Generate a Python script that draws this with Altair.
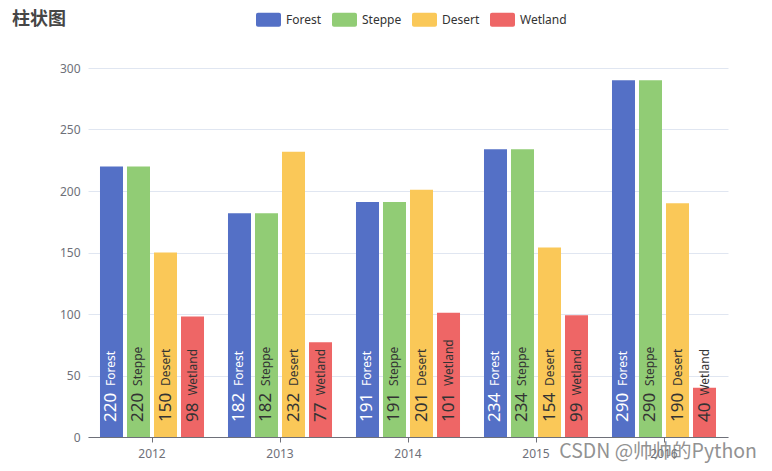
import altair as alt
import pandas as pd

years = ["2012", "2013", "2014", "2015", "2016"]
series = ["Forest", "Steppe", "Desert", "Wetland"]
forest = [220, 182, 191, 234, 290]
steppe = [220, 182, 191, 234, 290]
desert = [150, 232, 201, 154, 190]
wetland = [98, 77, 101, 99, 40]
colors = ["#5470c6", "#91cc75", "#fac858", "#ee6666"]
label_colors = ["#ffffff", "#333333", "#333333", "#333333"]

rows = []
for s, vals, lc in zip(series, [forest, steppe, desert, wetland], label_colors):
    for yr, v in zip(years, vals):
        rows.append({"year": yr, "series": s, "value": v, "lc": lc})
df = pd.DataFrame(rows)

PX_PER_UNIT = 369 / 300.0

yaxis = alt.Axis(title=None, values=[0, 50, 100, 150, 200, 250, 300], domain=False, ticks=False,
                 labelPadding=8, labelColor="#6e7079", labelFontSize=12, gridColor="#e0e6f1",
                 labelFont="Noto Sans")
yscale = alt.Scale(domain=[0, 300], nice=False)

x = alt.X("year:N", sort=years, scale=alt.Scale(paddingInner=0, paddingOuter=0),
          axis=alt.Axis(title=None, labelAngle=0, domainColor="#6e7079", tickColor="#6e7079",
                        tickSize=5, labelColor="#6e7079", labelFontSize=12, labelPadding=6,
                        grid=False, labelFont="Noto Sans"))
xoff = alt.XOffset("series:N", sort=series, scale=alt.Scale(paddingInner=0.148, paddingOuter=0.444))

rounded = ("M-0.84,-0.56 L0.84,-0.56 A0.16,0.16 0 0 1 1,-0.4 L1,0.4 A0.16,0.16 0 0 1 0.84,0.56 "
           "L-0.84,0.56 A0.16,0.16 0 0 1 -1,0.4 L-1,-0.4 A0.16,0.16 0 0 1 -0.84,-0.56 Z")

base = alt.Chart(df)

bars = base.mark_bar().encode(
    x=x,
    xOffset=xoff,
    y=alt.Y("value:Q", scale=yscale, axis=yaxis),
    color=alt.Color("series:N", sort=series, scale=alt.Scale(domain=series, range=colors),
                    legend=alt.Legend(orient="none", legendX=168, legendY=-61, direction="horizontal",
                                      title=None, symbolType=rounded, symbolSize=625,
                                      symbolStrokeWidth=0, symbolOpacity=1, labelFontSize=12,
                                      labelColor="#333333", labelFont="Noto Sans",
                                      columnPadding=10, labelOffset=5)),
)

val_text = base.transform_calculate(
    vy=f"15/{PX_PER_UNIT}"
).mark_text(angle=270, align="left", baseline="middle", fontSize=17, font="Noto Sans").encode(
    x=x,
    xOffset=xoff,
    y=alt.Y("vy:Q", scale=yscale, axis=yaxis),
    text="value:Q",
    color=alt.Color("lc:N", scale=None),
)

name_text = base.transform_calculate(
    ny=f"(15 + length(toString(datum.value))*9.7 + 7)/{PX_PER_UNIT}"
).mark_text(angle=270, align="left", baseline="middle", fontSize=12, font="Noto Sans").encode(
    x=x,
    xOffset=xoff,
    y=alt.Y("ny:Q", scale=yscale, axis=yaxis),
    text="series:N",
    color=alt.Color("lc:N", scale=None),
)

title_text = alt.Chart(pd.DataFrame({"t": ["柱状图"]})).mark_text(
    align="left", baseline="middle", fontSize=18, font="Noto Sans CJK SC", fontWeight="bold",
    color="#464646"
).encode(
    text="t:N",
    x=alt.value(-76),
    y=alt.value(-48),
)

watermark = alt.Chart(pd.DataFrame({"t": ["CSDN @帅帅的Python"]})).mark_text(
    align="right", baseline="middle", fontSize=19.5, font="Noto Sans CJK SC", color="#7f7f7f", opacity=0.85
).encode(
    text="t:N",
    x=alt.value(669),
    y=alt.value(384),
)

chart = alt.layer(bars, val_text, name_text, title_text, watermark).properties(
    width=640,
    height=369,
    autosize=alt.AutoSizeParams(type="none"),
    padding={"left": 80, "top": 60, "right": 36, "bottom": 26},
).configure_view(stroke=None)

chart.save("out.html", embed_options={"renderer": "svg", "actions": False})
